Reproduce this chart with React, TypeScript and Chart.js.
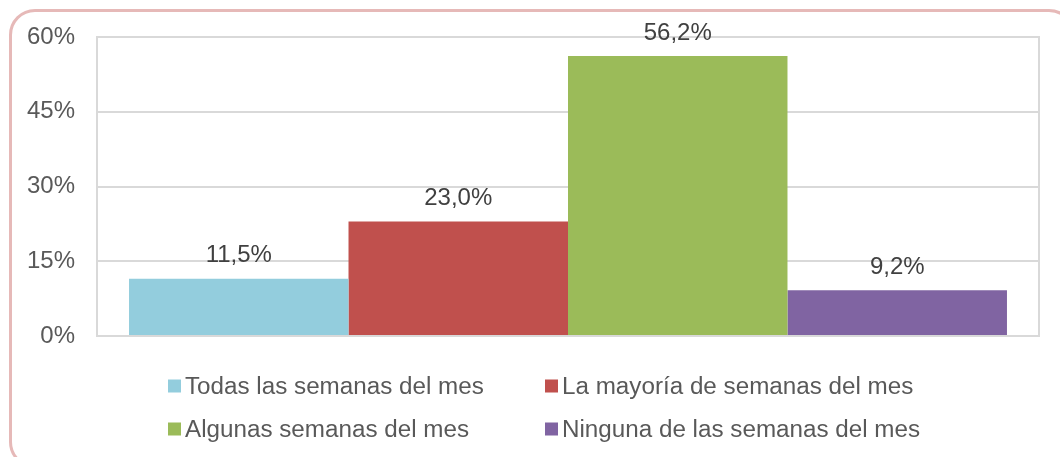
import React, { useEffect, useRef } from "react";
import { Chart, registerables } from "chart.js";

Chart.register(...registerables);

const categories = [""];
const seriesNames = [
  "Todas las semanas del mes",
  "La mayoría de semanas del mes",
  "Algunas semanas del mes",
  "Ninguna de las semanas del mes",
];
const seriesValues = [11.5, 23.0, 56.2, 9.2];
const seriesColors = ["#93CDDD", "#C0504D", "#9BBB59", "#8064A2"];
const yTicks = [0, 15, 30, 45, 60];

const FONT = "'Liberation Sans', Arial, sans-serif";

const fmt = (v: number) => v.toFixed(1).replace(".", ",") + "%";

const labelPlugin = {
  id: "barLabels",
  afterDatasetsDraw(chart: any) {
    const ctx = chart.ctx;
    ctx.save();
    ctx.font = `24px ${FONT}`;
    ctx.fillStyle = "#404040";
    ctx.textAlign = "center";
    ctx.textBaseline = "middle";
    chart.data.datasets.forEach((ds: any, i: number) => {
      const meta = chart.getDatasetMeta(i);
      meta.data.forEach((bar: any, j: number) => {
        ctx.fillText(fmt(ds.data[j]), bar.x, bar.y - 23);
      });
    });
    ctx.restore();
  },
};

const framePlugin = {
  id: "frame",
  beforeDatasetsDraw(chart: any) {
    const { ctx, chartArea: a } = chart;
    ctx.save();
    ctx.strokeStyle = "#D9D9D9";
    ctx.lineWidth = 2;
    ctx.strokeRect(a.left, a.top, a.right - a.left, a.bottom - a.top);
    ctx.restore();
  },
};

export default function App() {
  const ref = useRef<HTMLCanvasElement | null>(null);

  useEffect(() => {
    if (!ref.current) return;
    const chart = new Chart(ref.current, {
      type: "bar",
      data: {
        labels: categories,
        datasets: seriesNames.map((name, i) => ({
          label: name,
          data: [seriesValues[i]],
          backgroundColor: seriesColors[i],
          borderWidth: 0,
          categoryPercentage: 0.932,
          barPercentage: 1.0,
        })),
      },
      options: {
        responsive: false,
        animation: false,
        layout: { padding: { left: 0, top: 37, right: 21, bottom: 121 } },
        plugins: {
          legend: { display: false },
          tooltip: { enabled: false },
          title: { display: false },
        },
        scales: {
          x: {
            display: true,
            ticks: { display: false },
            grid: { display: false, drawTicks: false },
            border: { display: false },
            afterFit: (s: any) => {
              s.height = 0;
            },
          },
          y: {
            min: 0,
            max: 60,
            afterBuildTicks: (s: any) => {
              s.ticks = yTicks.map((v) => ({ value: v }));
            },
            ticks: {
              callback: (v: any) => v + "%",
              font: { family: FONT, size: 24 },
              color: "#595959",
              padding: 22,
            },
            grid: { color: "#D9D9D9", lineWidth: 2, drawTicks: false, tickLength: 0 },
            border: { display: false },
            afterFit: (s: any) => {
              s.width = 97;
            },
          },
        },
      },
      plugins: [framePlugin, labelPlugin],
    });
    return () => chart.destroy();
  }, []);

  const legendPos = [
    { left: 168, top: 386 },
    { left: 545, top: 386 },
    { left: 168, top: 429 },
    { left: 545, top: 429 },
  ];

  return (
    <div
      style={{
        position: "fixed",
        left: 0,
        top: 0,
        width: 1060,
        height: 457,
        overflow: "hidden",
        background: "#fff",
      }}
    >
      <div
        style={{
          position: "absolute",
          left: 9,
          top: 9,
          width: 1066,
          height: 459,
          border: "3px solid #E6B9B8",
          borderRadius: 26,
          boxSizing: "border-box",
        }}
      />
      <canvas
        ref={ref}
        width={1060}
        height={457}
        style={{ position: "absolute", left: 0, top: 0, width: 1060, height: 457 }}
      />
      {seriesNames.map((name, i) => (
        <div
          key={name}
          style={{
            position: "absolute",
            left: legendPos[i].left,
            top: legendPos[i].top,
            transform: "translateY(-50%)",
            display: "flex",
            alignItems: "center",
            fontFamily: FONT,
            fontSize: 23,
            color: "#595959",
            whiteSpace: "nowrap",
            lineHeight: 1,
          }}
        >
          <span
            style={{
              display: "inline-block",
              width: 13,
              height: 13,
              background: seriesColors[i],
              marginRight: 4,
            }}
          />
          <span
            style={{
              display: "inline-block",
              transform: "scaleX(1.053)",
              transformOrigin: "left center",
            }}
          >
            {name}
          </span>
        </div>
      ))}
    </div>
  );
}
